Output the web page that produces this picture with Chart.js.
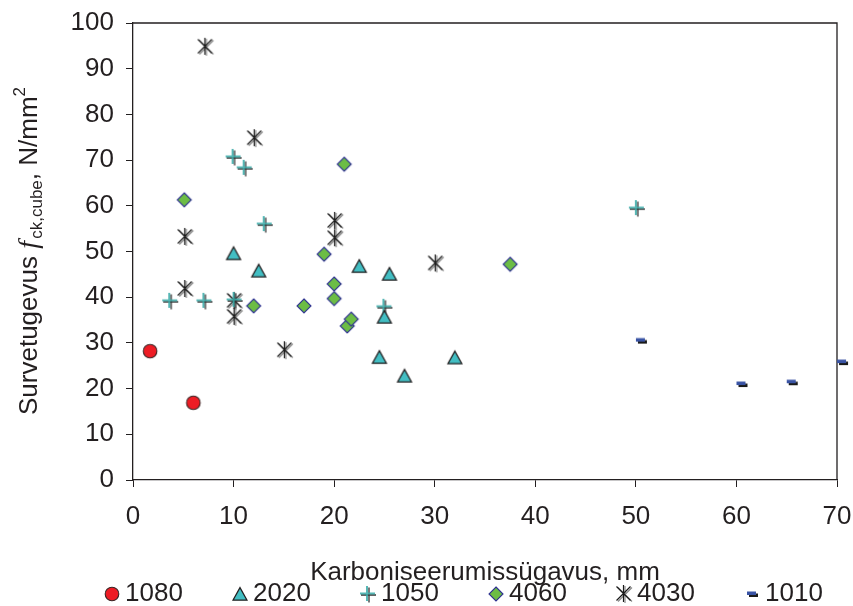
<!DOCTYPE html>
<html><head><meta charset="utf-8">
<script src="https://cdn.jsdelivr.net/npm/chart.js@4.4.1/dist/chart.umd.min.js"></script>
<style>html,body{margin:0;padding:0;background:#fff}#wrap{width:853px;height:606px;position:relative}</style>
</head><body><div id="wrap"><canvas id="c"></canvas></div>
<script>
// ---- data ----
const seriesNames = ['1080', '2020', '1050', '4060', '4030', '1010'];
const x1080 = [1.7, 6.0];
const y1080 = [28.2, 16.9];
const x2020 = [10.0, 12.5, 22.5, 25.5, 25.0, 24.5, 27.0, 32.0];
const y2020 = [49.6, 45.8, 46.8, 45.1, 35.7, 26.9, 22.8, 26.8];
const x1050 = [3.7, 7.1, 10.0, 10.1, 11.1, 13.1, 25.0, 50.1];
const y1050 = [39.2, 39.2, 70.7, 39.4, 68.3, 56.0, 37.9, 59.5];
const x4060 = [5.1, 12.0, 17.0, 19.0, 20.0, 20.0, 21.0, 21.3, 21.7, 37.5];
const y4060 = [61.3, 38.1, 38.1, 49.4, 42.9, 39.7, 69.1, 33.7, 35.2, 47.2];
const x4030 = [5.2, 5.2, 7.2, 10.1, 10.1, 12.1, 15.1, 20.1, 20.1, 30.1];
const y4030 = [53.2, 41.8, 94.8, 39.2, 35.7, 74.8, 28.4, 56.7, 52.9, 47.4];
const x1010 = [50.5, 60.5, 65.5, 70.5];
const y1010 = [30.5, 21.0, 21.4, 25.8];
const xTicks = [0, 10, 20, 30, 40, 50, 60, 70];
const yTicks = [0, 10, 20, 30, 40, 50, 60, 70, 80, 90, 100];
const xTitle = 'Karboniseerumissügavus, mm';

const FONT = '"Liberation Sans", Arial, sans-serif';
const TXT = '#231f20';

// ---- marker images ----
function mk(w, h, draw) {
  const c = document.createElement('canvas');
  c.width = w; c.height = h;
  const g = c.getContext('2d');
  draw(g);
  return c;
}
const mCircle = mk(18, 18, g => {
  g.beginPath(); g.arc(9, 9, 6.8, 0, Math.PI * 2);
  g.fillStyle = '#ed1c24'; g.fill();
  g.lineWidth = 1.1; g.strokeStyle = '#3a2424'; g.stroke();
});
const mTri = mk(18, 18, g => {
  g.beginPath(); g.moveTo(9, 2.6); g.lineTo(16, 15.2); g.lineTo(2, 15.2); g.closePath();
  g.fillStyle = '#42bec3'; g.fill();
  g.lineWidth = 1.2; g.strokeStyle = '#231f20'; g.stroke();
});
const mPlus = mk(22, 22, g => {
  g.lineWidth = 1.3; g.strokeStyle = '#333';
  g.beginPath(); g.moveTo(4, 12); g.lineTo(19, 12); g.moveTo(12, 4.5); g.lineTo(12, 19.5); g.stroke();
  g.lineWidth = 2; g.strokeStyle = 'rgba(58,170,168,0.85)';
  g.beginPath(); g.moveTo(3, 10.5); g.lineTo(18, 10.5); g.moveTo(10, 3); g.lineTo(10, 18); g.stroke();
});
const mDiam = mk(18, 18, g => {
  g.beginPath(); g.moveTo(9, 2); g.lineTo(16, 9); g.lineTo(9, 16); g.lineTo(2, 9); g.closePath();
  g.fillStyle = '#6cbd45'; g.fill();
  g.lineWidth = 1.1; g.strokeStyle = '#2e3192'; g.stroke();
});
const mStar = mk(24, 24, g => {
  const draw = (cx, cy, col) => {
    g.strokeStyle = col; g.lineWidth = 1.2;
    g.beginPath();
    g.moveTo(cx - 7, cy - 7); g.lineTo(cx + 7, cy + 7);
    g.moveTo(cx + 7, cy - 7); g.lineTo(cx - 7, cy + 7);
    g.moveTo(cx, cy - 8.5); g.lineTo(cx, cy + 8.5);
    g.stroke();
  };
  draw(13, 12.5, '#8a8a8a');
  draw(11.5, 11.5, '#1a1a1a');
});
const mDash = mk(16, 10, g => {
  g.fillStyle = '#1a1a1a'; g.fillRect(5, 4.5, 9, 3.5);
  g.fillStyle = '#3953a4'; g.fillRect(3, 2.5, 9, 3.5);
});

const images = [mCircle, mTri, mPlus, mDiam, mStar, mDash];
const xs = [x1080, x2020, x1050, x4060, x4030, x1010];
const ys = [y1080, y2020, y1050, y4060, y4030, y1010];

const datasets = seriesNames.map((name, k) => ({
  label: name,
  data: xs[k].map((x, i) => ({ x, y: ys[k][i] })),
  pointStyle: images[k],
  pointRadius: 7,
  pointHoverRadius: 7,
  showLine: false,
  clip: false
}));

// ---- plugins ----
const framePlugin = {
  id: 'frame',
  beforeDatasetsDraw(chart) {
    const { ctx, chartArea: a } = chart;
    ctx.save();
    ctx.strokeStyle = TXT; ctx.lineWidth = 1.3;
    ctx.beginPath();
    ctx.moveTo(a.left, a.top); ctx.lineTo(a.right, a.top); ctx.lineTo(a.right, a.bottom);
    ctx.stroke();
    ctx.restore();
  }
};

const yTitlePlugin = {
  id: 'ytitle',
  afterDraw(chart) {
    const ctx = chart.ctx;
    const parts = [
      { t: 'Survetugevus ', f: '26px ' + FONT, dy: 0 },
      { t: 'f', f: 'italic 28px "Liberation Serif", "Times New Roman", serif', dy: 0 },
      { t: ' ', f: '8px ' + FONT, dy: 0 },
      { t: 'ck,cube', f: '17px ' + FONT, dy: 5 },
      { t: ', N/mm', f: '26px ' + FONT, dy: 0 },
      { t: '2', f: '17px ' + FONT, dy: -12 }
    ];
    ctx.save();
    let total = 0;
    parts.forEach(p => { ctx.font = p.f; p.w = ctx.measureText(p.t).width; total += p.w; });
    ctx.translate(37, 251);
    ctx.rotate(-Math.PI / 2);
    ctx.fillStyle = TXT;
    ctx.textBaseline = 'alphabetic';
    ctx.textAlign = 'left';
    let x = -total / 2;
    parts.forEach(p => { ctx.font = p.f; ctx.fillText(p.t, x, p.dy); x += p.w; });
    ctx.restore();
  }
};

const legendPlugin = {
  id: 'customLegend',
  afterDraw(chart) {
    const ctx = chart.ctx;
    ctx.save();
    ctx.font = '26px ' + FONT;
    ctx.fillStyle = TXT;
    ctx.textBaseline = 'middle';
    ctx.textAlign = 'left';
    const y = 594;
    chart.data.datasets.forEach((d, i) => {
      const mx = 112 + i * 128;
      const img = d.pointStyle;
      ctx.drawImage(img, Math.round(mx - img.width / 2), Math.round(y - img.height / 2));
      ctx.fillText(d.label, 125 + i * 128, y);
    });
    ctx.restore();
  }
};

new Chart(document.getElementById('c'), {
  type: 'scatter',
  data: { datasets },
  options: {
    responsive: true,
    maintainAspectRatio: false,
    animation: false,
    events: [],
    layout: { padding: { top: 23, right: 16, left: 0, bottom: 0 } },
    plugins: { legend: { display: false }, tooltip: { enabled: false } },
    scales: {
      x: {
        type: 'linear', min: 0, max: 70,
        afterBuildTicks: s => { s.ticks = xTicks.map(v => ({ value: v })); },
        afterFit: s => { s.height = 126; s.paddingLeft = 0; s.paddingRight = 0; },
        ticks: { font: { size: 26, family: FONT }, color: TXT, padding: 14, maxRotation: 0, autoSkip: false },
        grid: { drawOnChartArea: false, drawTicks: true, tickLength: 7, color: TXT, lineWidth: 1 },
        border: { display: true, color: TXT, width: 1.3 },
        title: { display: true, text: xTitle, font: { size: 26, family: FONT }, color: TXT, padding: { top: 0, bottom: 18 } }
      },
      y: {
        type: 'linear', min: 0, max: 100,
        afterBuildTicks: s => { s.ticks = yTicks.map(v => ({ value: v })); },
        afterFit: s => { s.width = 133; s.paddingTop = 0; s.paddingBottom = 0; },
        ticks: { font: { size: 26, family: FONT }, color: TXT, padding: 12, autoSkip: false },
        grid: { drawOnChartArea: false, drawTicks: true, tickLength: 7, color: TXT, lineWidth: 1 },
        border: { display: true, color: TXT, width: 1.3 }
      }
    }
  },
  plugins: [framePlugin, yTitlePlugin, legendPlugin]
});
</script>
</body></html>
